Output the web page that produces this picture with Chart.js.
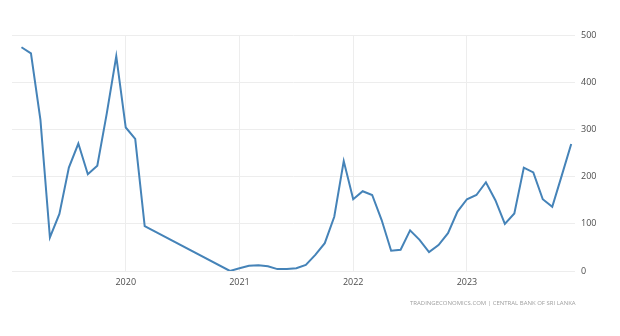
<!DOCTYPE html>
<html>
<head>
<meta charset="utf-8">
<script src="https://cdn.jsdelivr.net/npm/chart.js@4.4.1/dist/chart.umd.min.js"></script>
<style>
    html, body { margin: 0; padding: 0; background: #fff; }
    #wrap { position: relative; width: 620px; height: 336px; }
    #source {
        position: absolute;
        left: 410px;
        top: 299px;
        font-family: "Open Sans", sans-serif;
        font-size: 6px;
        color: #a0a0a0;
        white-space: nowrap;
    }
</style>
</head>
<body>
<div id="wrap">
    <canvas id="chart" width="620" height="336"></canvas>
    <div id="source">TRADINGECONOMICS.COM | CENTRAL BANK OF SRI LANKA</div>
</div>
<script>
// Monthly observations (null = no data, line spans the gap)
const months = [
    '2019-02', '2019-03', '2019-04', '2019-05', '2019-06', '2019-07', '2019-08', '2019-09', '2019-10', '2019-11', '2019-12',
    '2020-01', '2020-02', '2020-03', '2020-04', '2020-05', '2020-06', '2020-07', '2020-08', '2020-09', '2020-10', '2020-11', '2020-12',
    '2021-01', '2021-02', '2021-03', '2021-04', '2021-05', '2021-06', '2021-07', '2021-08', '2021-09', '2021-10', '2021-11', '2021-12',
    '2022-01', '2022-02', '2022-03', '2022-04', '2022-05', '2022-06', '2022-07', '2022-08', '2022-09', '2022-10', '2022-11', '2022-12',
    '2023-01', '2023-02', '2023-03', '2023-04', '2023-05', '2023-06', '2023-07', '2023-08', '2023-09', '2023-10', '2023-11', '2023-12'
];
const values = [
    474, 461, 320, 71, 121, 219, 270, 205, 223, 334, 455,
    304, 280, 95, null, null, null, null, null, null, null, null, 0,
    6, 11, 12, 10, 4, 4, 6, 13, 34, 59, 115, 233,
    152, 169, 161, 108, 43, 45, 86, 66, 40, 55, 80, 126,
    152, 161, 188, 150, 100, 122, 219, 209, 152, 136, 202, 269
];
const yearLabels = ['2020', '2021', '2022', '2023'];
const yTicks = [0, 100, 200, 300, 400, 500];

// Month index counted from Jan 2019
function monthIndex(label) {
    const parts = label.split('-');
    return (parseInt(parts[0]) - 2019) * 12 + parseInt(parts[1]) - 1;
}

document.addEventListener('DOMContentLoaded', function() {
    const points = months.map((m, i) => ({ x: monthIndex(m), y: values[i] }));
    const yearTicks = yearLabels.map(y => (parseInt(y) - 2019) * 12);

    const ctx = document.getElementById('chart').getContext('2d');
    new Chart(ctx, {
        type: 'line',
        data: {
            datasets: [{
                data: points,
                borderColor: '#4583b8',
                borderWidth: 2,
                pointRadius: 0,
                tension: 0,
                spanGaps: true
            }]
        },
        options: {
            responsive: false,
            animation: false,
            layout: { padding: { left: 12, top: 35, right: 0, bottom: 0 } },
            plugins: {
                legend: { display: false },
                tooltip: { enabled: false }
            },
            scales: {
                x: {
                    type: 'linear',
                    min: 0,
                    max: 59.4,
                    afterBuildTicks: function(scale) {
                        scale.ticks = yearTicks.map(v => ({ value: v }));
                    },
                    afterFit: function(scale) { scale.height = 65; },
                    grid: { color: '#ededed', drawTicks: false },
                    border: { display: false },
                    ticks: {
                        padding: 6,
                        color: '#4d4d4d',
                        font: { family: 'Open Sans', size: 9 },
                        maxRotation: 0,
                        callback: function(v) { return String(2019 + v / 12); }
                    }
                },
                y: {
                    position: 'right',
                    min: 0,
                    max: 500,
                    afterBuildTicks: function(scale) {
                        scale.ticks = yTicks.map(v => ({ value: v }));
                    },
                    afterFit: function(scale) { scale.width = 45; },
                    grid: { color: '#ededed', drawTicks: false },
                    border: { display: false },
                    ticks: {
                        padding: 6,
                        color: '#4d4d4d',
                        font: { family: 'Open Sans', size: 9 }
                    }
                }
            }
        }
    });
});
</script>
</body>
</html>
